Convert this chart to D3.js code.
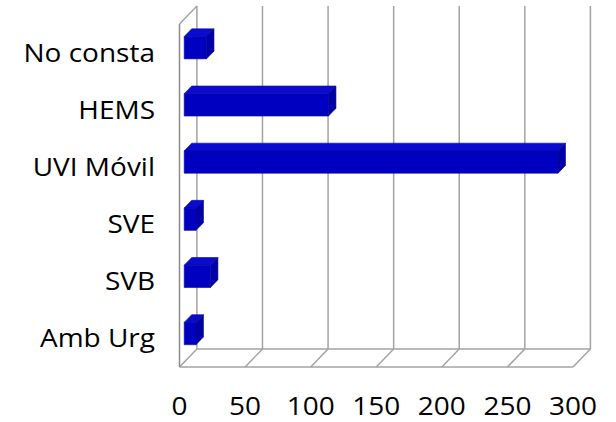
<!DOCTYPE html>
<html>
<head>
<meta charset="utf-8">
<script src="https://cdn.jsdelivr.net/npm/d3@7"></script>
<style>
  html, body { margin: 0; padding: 0; background: #fff; }
  svg { display: block; }
  text { font-family: "Open Sans", "Liberation Sans", sans-serif; fill: #000; }
</style>
</head>
<body>
<svg id="chart" width="616" height="422"></svg>
<script>
// Categories, listed from top to bottom
const categories = ["No consta", "HEMS", "UVI Móvil", "SVE", "SVB", "Amb Urg"];
// Counts per category
const values = [17, 110, 285, 9, 20, 9];
// Value axis ticks
const xTicks = [0, 50, 100, 150, 200, 250, 300];

const svg = d3.select("#chart");

// Front plane of the 3D box and the oblique depth offset
const boxLeft = 179.5, boxRight = 573, boxTop = 24, boxBottom = 367;
const DX = 17.4, DY = -18;
// Bars occupy this slice of the box depth
const D0 = 0.27, D1 = 0.70;
// labels are set a little wide
const STRETCH = 1.12;

const x = d3.scaleLinear().domain([0, 300]).range([boxLeft, boxRight]);
const y = d3.scaleBand().domain(categories).range([boxTop, boxBottom])
  .paddingInner(0.61).paddingOuter(0.305);

// project a front-plane point back by depth fraction d
const P = (px, py, d) => [px + d * DX, py + d * DY];
const poly = pts => "M" + pts.map(p => p.join(",")).join("L") + "Z";

const grid = svg.append("g").attr("fill", "none")
  .attr("stroke", "#a3a3a3").attr("stroke-width", 1.5);

function seg(a, b) {
  return grid.append("line").attr("x1", a[0]).attr("y1", a[1]).attr("x2", b[0]).attr("y2", b[1]);
}

// back wall gridlines
xTicks.forEach(t => seg(P(x(t), boxTop, 1), P(x(t), boxBottom, 1)));

// floor: front edge, back edge, diagonal ticks
seg(P(x(0), boxBottom, 0), P(x(300), boxBottom, 0));
seg(P(x(0), boxBottom, 1), P(x(300), boxBottom, 1));
xTicks.forEach(t => seg(P(x(t), boxBottom, 0), P(x(t), boxBottom, 1)));

// left side wall
seg(P(x(0), boxTop, 0), P(x(0), boxTop, 1));
seg(P(x(0), boxTop, 0), P(x(0), boxBottom, 0)).attr("stroke", "#8c8c8c");

// 3D bars
const bars = svg.append("g").selectAll("g").data(categories).join("g");
bars.each(function(c, i) {
  const g = d3.select(this);
  const v = values[i];
  const y0 = y(c), y1 = y(c) + y.bandwidth();
  const xa = x(0), xb = x(v);
  // top face
  g.append("path")
    .attr("d", poly([P(xa, y0, D0), P(xb, y0, D0), P(xb, y0, D1), P(xa, y0, D1)]))
    .attr("fill", "#0b0bcf").attr("stroke", "#0a0a9a").attr("stroke-width", 0.6);
  // side face
  g.append("path")
    .attr("d", poly([P(xb, y0, D0), P(xb, y0, D1), P(xb, y1, D1), P(xb, y1, D0)]))
    .attr("fill", "#0000a6").attr("stroke", "#0a0a8a").attr("stroke-width", 0.6);
  // front face
  g.append("path")
    .attr("d", poly([P(xa, y0, D0), P(xb, y0, D0), P(xb, y1, D0), P(xa, y1, D0)]))
    .attr("fill", "#0000c0").attr("stroke", "#0a0a9a").attr("stroke-width", 0.6);
});

// category labels
svg.append("g").selectAll("text").data(categories).join("text")
  .attr("transform", c => `translate(155,${y(c) + y.bandwidth() / 2}) scale(${STRETCH},1)`)
  .attr("dy", "0.36em")
  .attr("text-anchor", "end")
  .attr("font-size", 25)
  .text(d => d);

// value axis labels
svg.append("g").selectAll("text").data(xTicks).join("text")
  .attr("transform", d => `translate(${x(d)},414.5) scale(${STRETCH},1)`)
  .attr("text-anchor", "middle")
  .attr("font-size", 25)
  .text(d => d);
</script>
</body>
</html>
